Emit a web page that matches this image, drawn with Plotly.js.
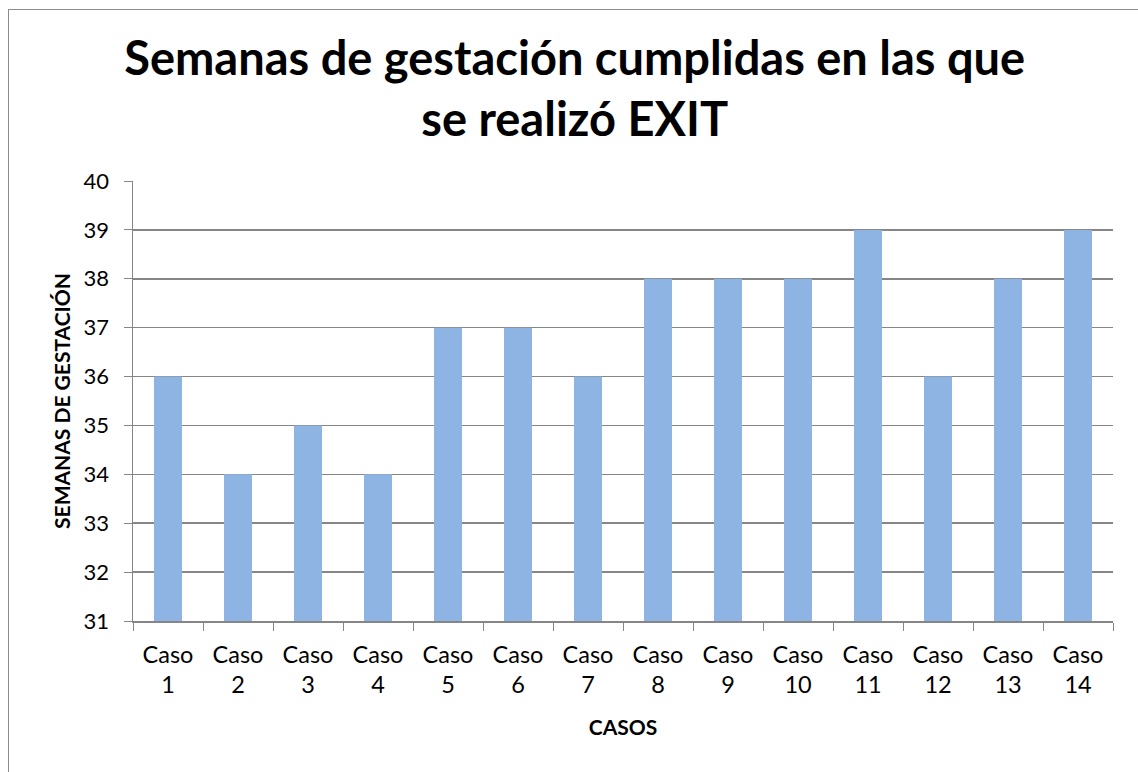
<!DOCTYPE html>
<html>
<head>
<meta charset="utf-8">
<script src="https://cdn.plot.ly/plotly-3.0.1.min.js"></script>
<style>
  body { margin: 0; background: #fff; }
  #chart { width: 1138px; height: 772px; position: absolute; left: 0; top: 0; }
  #frame {
    position: absolute; left: 8px; top: 9px; width: 1130px; height: 763px;
    border-left: 1.5px solid #8c8c8c; border-top: 1.5px solid #8c8c8c;
    pointer-events: none;
  }
</style>
</head>
<body>
<div id="chart"></div>
<div id="frame"></div>
<script>
// casos y semanas
const casos = ["Caso<br>1", "Caso<br>2", "Caso<br>3", "Caso<br>4", "Caso<br>5", "Caso<br>6", "Caso<br>7",
  "Caso<br>8", "Caso<br>9", "Caso<br>10", "Caso<br>11", "Caso<br>12", "Caso<br>13", "Caso<br>14"];
const semanas = [36, 34, 35, 34, 37, 37, 36, 38, 38, 38, 39, 36, 38, 39];
const rangoY = [31, 40];

const gris = "#868686";
const fuente = "Lato, 'Open Sans', sans-serif";

const data = [{
  x: casos,
  y: semanas,
  type: "bar",
  marker: { color: "#8eb4e3" },
  hoverinfo: "x+y",
}];

const layout = {
  width: 1138,
  height: 772,
  margin: { l: 133, r: 25, t: 181, b: 151 },
  paper_bgcolor: "#fff",
  plot_bgcolor: "#fff",
  font: { family: fuente, color: "#000" },
  showlegend: false,
  bargap: 0.6,
  title: {
    text: "<b>Semanas de gestación cumplidas en las que<br>se realizó EXIT</b>",
    font: { size: 47, family: fuente, color: "#000" },
    x: 0.505,
    xref: "container",
    y: 0.903,
    yref: "container",
    yanchor: "middle",
  },
  xaxis: {
    type: "category",
    tickson: "boundaries",
    ticks: "outside",
    ticklen: 8,
    tickcolor: gris,
    showline: true,
    linecolor: gris,
    linewidth: 1.5,
    showgrid: false,
    tickfont: { size: 23.5 },
    ticklabelstandoff: 12,
    title: { text: "<b>CASOS</b>", font: { size: 21 }, standoff: 23 },
  },
  yaxis: {
    range: rangoY,
    dtick: 1,
    ticks: "outside",
    ticklen: 8,
    tickcolor: gris,
    showline: true,
    linecolor: gris,
    linewidth: 1.5,
    gridcolor: gris,
    gridwidth: 1.5,
    zeroline: false,
    tickfont: { size: 22 },
    ticklabelstandoff: 10,
    title: { text: "<b>SEMANAS DE GESTACIÓN</b>", font: { size: 21 }, standoff: 7 },
  },
};

Plotly.newPlot("chart", data, layout, { displayModeBar: false, staticPlot: true });
</script>
</body>
</html>
